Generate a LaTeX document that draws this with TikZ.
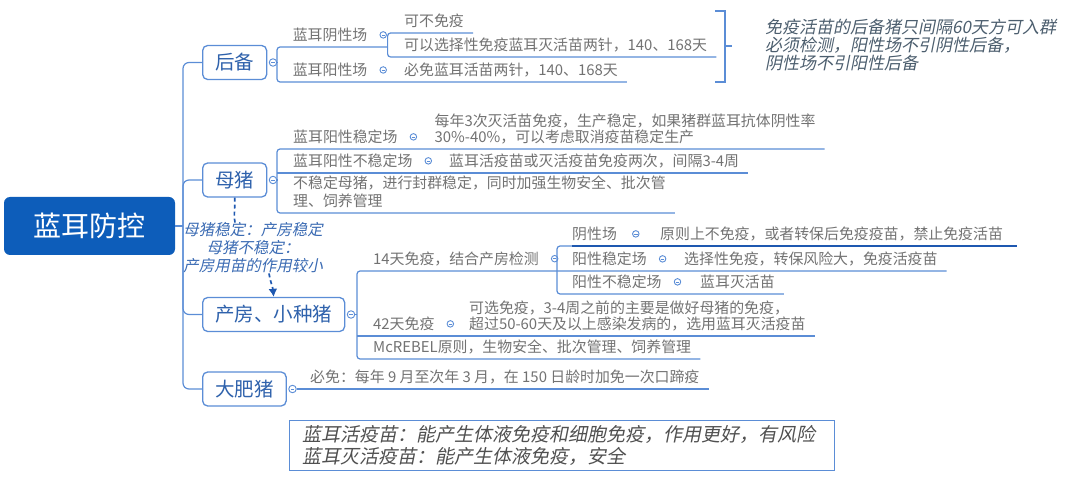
\documentclass[tikz,border=0pt]{standalone}
\usepackage{fontspec}
\setmainfont{Noto Sans CJK SC}
\newfontfamily\slantcjk[FakeSlant=0.2]{Noto Sans CJK SC}
\usetikzlibrary{arrows.meta,positioning}

\definecolor{wireblue}{HTML}{5B8DD6}
\definecolor{rootblue}{HTML}{0D5DBA}
\definecolor{stemtext}{HTML}{2F62AC}
\definecolor{leafgrey}{HTML}{727272}
\definecolor{memogrey}{HTML}{4C5E6E}
\definecolor{hintblue}{HTML}{3B6BB3}
\definecolor{hotblue}{HTML}{1E58B0}
\definecolor{boardgrey}{HTML}{505050}

\begin{document}
\begin{tikzpicture}[x=1pt, y=-1pt,
                wire/.style={draw=wireblue, line width=1.2pt},
                hot/.style={draw=hotblue, line width=2pt},
                hinted/.style={draw=hotblue, line width=1.7pt, dash pattern=on 4pt off 3pt},
                >={Latex[length=8pt,width=9pt]}]
        \tikzset{
                root/.style  = {fill=rootblue, rounded corners=6pt, text=white, minimum width=171pt,
                                minimum height=58pt, font=\fontsize{28}{30}\selectfont},
                stem/.style  = {draw=wireblue, line width=1.3pt, rounded corners=5pt, fill=white, anchor=west,
                                inner xsep=12.5pt, minimum height=34pt, text=stemtext, font=\fontsize{19.5}{21}\selectfont},
                leaf/.style  = {anchor=south west, inner xsep=0pt, inner ysep=5pt, align=left, text=leafgrey,
                                font=\fontsize{14.9}{16}\selectfont},
                fold/.style  = {circle, draw=wireblue, fill=white, line width=0.9pt, inner sep=0pt, minimum size=6.5pt,
                                path picture={\draw[wireblue, line width=0.7pt]
                                ([xshift=-1.7pt]path picture bounding box.center) -- ([xshift=1.7pt]path picture bounding box.center);}},
                hint/.style  = {align=center, inner sep=0pt, text=hintblue, font=\fontsize{15.5}{18}\slantcjk},
                memo/.style  = {anchor=west, align=left, inner sep=0pt, text=memogrey, font=\fontsize{17}{18}\slantcjk},
                board/.style = {anchor=north west, draw=wireblue, line width=1.1pt, text width=520pt, inner xsep=12.5pt,
                                inner ysep=5pt, align=left, text=boardgrey, font=\fontsize{19}{22}\slantcjk}
        }
        \useasboundingbox (0,0) rectangle (1080,486);

        % root and the four branches
        \node[root] (top) at (89.5,226) {蓝耳防控};
        \node[stem] (houbei) at (202,62.5) {后备};
        \node[stem] (muzhu) at (202,180) {母猪};
        \node[stem] (chanfang) at (202,314.5) {产房、小种猪};
        \node[stem] (dafei) at (202,389) {大肥猪};

        \coordinate (spine) at (183,226);
        \draw[wire] (top.east) -- (spine);
        \foreach \b in {houbei,muzhu,chanfang,dafei}{
                \draw[wire, rounded corners=6pt] (spine) |- (\b.west);
                \node[fold, minimum size=7.5pt, right=1.5pt of \b] (k\b) {};
        }

        % verticals of each group
        \coordinate (v1) at (277,0);
        \coordinate (v11) at (387.6,0);
        \coordinate (v2) at (277,0);
        \coordinate (v3) at (357,0);
        \coordinate (v31) at (557,0);

        % houbei
        \node[leaf] (a1) at (292.6,47) {蓝耳阴性场};
        \node[fold, right=12pt of a1] (a1k) {};
        \node[leaf] (a11) at (404,33) {可不免疫};
        \node[leaf] (a12) at (404,57) {可以选择性免疫蓝耳灭活苗两针，140、168天};
        \node[leaf] (a2) at (292.6,82) {蓝耳阳性场};
        \node[fold, right=12pt of a2] (a2k) {};
        \node[leaf] (a21) at (404,82) {必免蓝耳活苗两针，140、168天};

        \draw[wire] (khoubei) -- (khoubei -| v1);
        \draw[wire, rounded corners=3pt] (a1.south -| v11) -- (a1.south -| v1) |- ([xshift=9pt]a21.south east);
        \draw[wire, rounded corners=3pt] ([xshift=9pt]a11.south east) -- (a11.south -| v11) |- ([xshift=9pt]a12.south east);

        % bracket and its remark
        \node[memo] (remark) at (765,45) {免疫活苗的后备猪只间隔60天方可入群\\必须检测，阳性场不引阴性后备，\\阴性场不引阳性后备};
        \draw[wire] (715,11) -- (725,11) -- (725,82) -- (715,82) (725,46) -- (732,46);

        % muzhu
        \node[leaf] (b1) at (293,149) {蓝耳阳性稳定场};
        \node[fold, right=12pt of b1] (b1k) {};
        \node[leaf] (b11) at (434.5,149) {每年3次灭活苗免疫，生产稳定，如果猪群蓝耳抗体阴性率\\30\%-40\%，可以考虑取消疫苗稳定生产};
        \node[leaf] (b2) at (293,173) {蓝耳阳性不稳定场};
        \node[fold, right=12pt of b2] (b2k) {};
        \node[leaf] (b21) at (449,173) {蓝耳活疫苗或灭活疫苗免疫两次，间隔3-4周};
        \node[leaf, font=\fontsize{14.9}{18}\selectfont] (b3) at (293,213) {不稳定母猪，进行封群稳定，同时加强生物安全、批次管\\理、饲养管理};

        \draw[wire] (kmuzhu) -- (kmuzhu -| v2);
        \draw[wire, rounded corners=3pt] ([xshift=9pt]b11.south east) -- (b1.south -| v2) |- ([xshift=9pt]b3.south east);
        \draw[wire] (b2.south -| v2) -- ([xshift=9pt]b21.south east);

        % chanfang
        \node[leaf] (c1) at (373,271) {14天免疫，结合产房检测};
        \node[fold, right=12pt of c1] (c1k) {};
        \node[leaf] (c11) at (572,246) {阴性场};
        \node[fold, right=15pt of c11] (c11k) {};
        \node[leaf] (c111) at (660,246) {原则上不免疫，或者转保后免疫疫苗，禁止免疫活苗};
        \node[leaf] (c12) at (572,271) {阳性稳定场};
        \node[fold, right=12pt of c12] (c12k) {};
        \node[leaf] (c121) at (684,271) {选择性免疫，转保风险大，免疫活疫苗};
        \node[leaf] (c13) at (572,294) {阳性不稳定场};
        \node[fold, right=12pt of c13] (c13k) {};
        \node[leaf] (c131) at (700,294) {蓝耳灭活苗};
        \node[leaf] (c2) at (373,336) {42天免疫};
        \node[fold, right=12pt of c2] (c2k) {};
        \node[leaf] (c21) at (469,336) {可选免疫，3-4周之前的主要是做好母猪的免疫，\\超过50-60天及以上感染发病的，选用蓝耳灭活疫苗};
        \node[leaf] (c3) at (373,359) {McREBEL原则，生物安全、批次管理、饲养管理};

        \draw[wire] (kchanfang) -- (kchanfang -| v3);
        \draw[wire, rounded corners=3pt] ([xshift=9pt]c121.south east) -- (c1.south -| v3) |- ([xshift=9pt]c3.south east);
        \draw[wire] (c2.south -| v3) -- ([xshift=9pt]c21.south east);
        \draw[wire, rounded corners=3pt] ([xshift=9pt]c131.south east) -| (c11.south -| v31) -- (c11.south west);
        \draw[hot] (c11.south west) -- ([xshift=14pt]c111.south east);

        % dafei
        \node[leaf] (d1) at (310,389) {必免：每年 9 月至次年 3 月，在 150 日龄时加免一次口蹄疫};
        \draw[wire] (kdafei) -- ([xshift=9pt]d1.south east);

        % dashed hint from muzhu to chanfang
        \node[hint] (hint) at (253,248) {母猪稳定：产房稳定\\母猪不稳定：\\产房用苗的作用较小};
        \draw[hinted] (muzhu.south) to[out=-85,in=100] ([xshift=-18pt]hint.north);
        \draw[hinted, ->] ([xshift=16pt]hint.south) to[out=-80,in=95] (chanfang.north);

        % vaccine remark
        \node[board] (vaccine) at (289,420) {蓝耳活疫苗：能产生体液免疫和细胞免疫，作用更好，有风险\\蓝耳灭活疫苗：能产生体液免疫，安全};
\end{tikzpicture}
\end{document}
